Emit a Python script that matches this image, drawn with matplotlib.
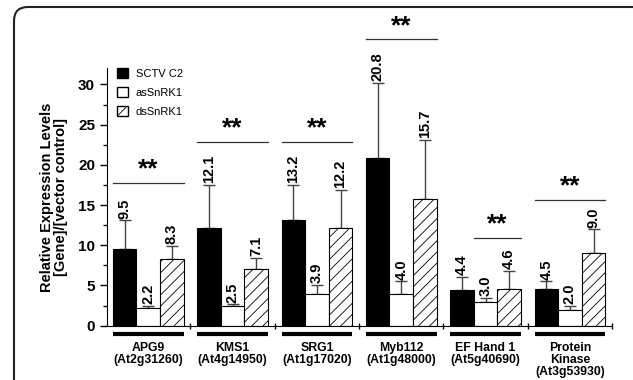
import numpy as np
import matplotlib
matplotlib.use('Agg')
import matplotlib.pyplot as plt
from matplotlib.patches import Patch, FancyBboxPatch
from matplotlib.transforms import IdentityTransform

plt.rcParams['font.family'] = ['Liberation Sans', 'DejaVu Sans']
plt.rcParams['hatch.linewidth'] = 0.6

# dados
genes = ['APG9\n(At2g31260)', 'KMS1\n(At4g14950)', 'SRG1\n(At1g17020)',
         'Myb112\n(At1g48000)', 'EF Hand 1\n(At5g40690)', 'Protein\nKinase\n(At3g53930)']
sctv = [9.5, 12.1, 13.2, 20.8, 4.4, 4.5]
sctv_err = [3.6, 5.4, 4.3, 9.4, 1.7, 1.0]
assn = [2.2, 2.5, 3.9, 4.0, 3.0, 2.0]
assn_err = [0.25, 0.15, 1.15, 1.5, 0.5, 0.5]
dssn = [8.3, 7.1, 12.2, 15.7, 4.6, 9.0]
dssn_err = [1.65, 1.35, 4.7, 7.4, 2.2, 3.0]
sig_altura = [17.7, 22.85, 22.85, 35.6, 10.9, 15.6]

fig = plt.figure(figsize=(6.33, 3.80), dpi=100)
ax = fig.add_axes([0.169, 0.143, 0.798, 0.677])

x = np.arange(len(genes))
w = 0.28
cor_err = '#444444'

series = [(sctv, sctv_err, 'black', '', 'SCTV C2'),
          (assn, assn_err, 'white', '', 'asSnRK1'),
          (dssn, dssn_err, 'white', '///', 'dsSnRK1')]

for k, (vals, errs, cor, hatch, nome) in enumerate(series):
    pos = x + (k - 1) * w
    ax.bar(pos, vals, w, color=cor, edgecolor='black', hatch=hatch, linewidth=0.8, zorder=2)
    ax.errorbar(pos, vals, yerr=[np.zeros(len(vals)), errs], fmt='none',
                ecolor=cor_err, elinewidth=1.0, capsize=4, capthick=1.0, zorder=1)
    for p, v, e in zip(pos, vals, errs):
        ax.text(p, v + e + 0.2, '%.1f' % v, rotation=90, ha='center', va='bottom',
                fontsize=10.5, fontweight='bold')

# linhas de significancia
for i, h in enumerate(sig_altura):
    if i == 4:
        x0, x1 = x[i] - w * 0.5, x[i] + w * 1.5
    else:
        x0, x1 = x[i] - w * 1.5, x[i] + w * 1.5
    ax.plot([x0, x1], [h, h], color='#333333', lw=0.9, clip_on=False)
    ax.text((x0 + x1) / 2, h + 0.2, '**', ha='center', va='bottom', fontsize=19,
            fontweight='bold', clip_on=False)

# barras pretas e nomes dos genes embaixo do eixo
for i, g in enumerate(genes):
    ax.plot([x[i] - w * 1.5, x[i] + w * 1.5], [-1.0, -1.0], color='black', lw=3,
            clip_on=False, solid_capstyle='butt')
    ax.text(x[i], -2.0, g, ha='center', va='top', fontsize=8.8, fontweight='bold',
            linespacing=1.0)

ax.set_xlim(-0.49, 5.49)
ax.set_ylim(0, 32)
ax.set_yticks(np.arange(0, 31, 5))
ax.set_yticks(np.arange(2.5, 31, 5), minor=True)
ax.set_xticks(np.arange(0.5, 5.6, 1))
ax.set_xticklabels([])
ax.tick_params(axis='x', direction='inout', length=5, width=1)
ax.tick_params(axis='y', which='major', direction='out', length=5, width=1, labelsize=11)
ax.tick_params(axis='y', which='minor', direction='out', length=3, width=1)
for t in ax.get_yticklabels():
    t.set_fontweight('bold')
ax.spines['top'].set_visible(False)
ax.spines['right'].set_visible(False)
ax.set_ylabel('Relative Expression Levels\n[Gene]/[vector control]', fontsize=10.5,
              fontweight='bold', linespacing=1.0, labelpad=7)

handles = [Patch(facecolor='black', edgecolor='black', label='SCTV C2'),
           Patch(facecolor='white', edgecolor='black', label='asSnRK1'),
           Patch(facecolor='white', edgecolor='black', hatch='/', label='dsSnRK1')]
ax.legend(handles=handles, loc='upper left', bbox_to_anchor=(0.0, 1.04), frameon=False,
          handlelength=1.0, handleheight=1.0, fontsize=8, labelspacing=0.75, handletextpad=0.7)

# moldura arredondada
moldura = FancyBboxPatch((14, -30), 700, 403, boxstyle='round,pad=0,rounding_size=14',
                         transform=IdentityTransform(), facecolor='none',
                         edgecolor='#222222', linewidth=1.5)
fig.add_artist(moldura)

fig.savefig('out.png', dpi=100)
